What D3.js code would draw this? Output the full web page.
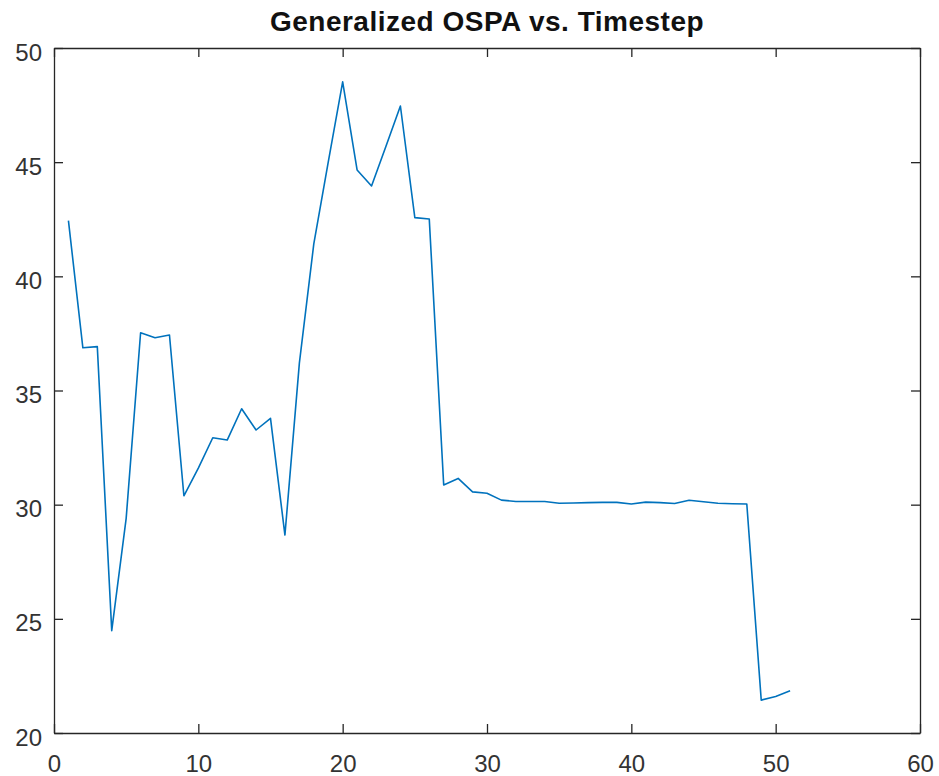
<!DOCTYPE html>
<html>
<head>
<meta charset="utf-8">
<script src="https://cdn.jsdelivr.net/npm/d3@7"></script>
<style>
  html, body { margin: 0; padding: 0; background: #fff; }
  svg { display: block; }
</style>
</head>
<body>
<svg id="chart" width="939" height="776"></svg>
<script>
const title = "Generalized OSPA vs. Timestep";
const timesteps = d3.range(1, 52);
const ospa = [42.44, 36.87, 36.92, 24.48, 29.4, 37.53, 37.31, 37.43, 30.39, 31.6,
              32.93, 32.83, 34.2, 33.27, 33.78, 28.67, 36.2, 41.42, 45.0, 48.52,
              44.66, 43.96, 45.7, 47.46, 42.57, 42.51, 30.86, 31.15, 30.56, 30.5,
              30.2, 30.14, 30.14, 30.14, 30.06, 30.07, 30.09, 30.1, 30.1, 30.03,
              30.11, 30.09, 30.05, 30.19, 30.13, 30.06, 30.04, 30.03, 21.44, 21.6, 21.85];
const xTicks = [0, 10, 20, 30, 40, 50, 60];
const yTicks = [20, 25, 30, 35, 40, 45, 50];

const L = 54, R = 920, T = 48, B = 733;
const svg = d3.select("#chart");
const x = d3.scaleLinear().domain([0, 60]).range([L, R]);
const y = d3.scaleLinear().domain([20, 50]).range([B, T]);

const axisColor = "#262626";
const labelColor = "#333333";
const fontFam = "'Liberation Sans', Arial, Helvetica, sans-serif";

// data line
svg.append("path")
  .datum(timesteps.map((t, i) => [t, ospa[i]]))
  .attr("fill", "none")
  .attr("stroke", "#0072BD")
  .attr("stroke-width", 1.6)
  .attr("stroke-linejoin", "round")
  .attr("d", d3.line().x(d => x(d[0])).y(d => y(d[1])));

// axes (ticks inside)
const tickLen = 9;
const styleAxis = g => {
  g.select(".domain").attr("stroke", axisColor).attr("stroke-width", 1.3);
  g.selectAll(".tick line").attr("stroke", axisColor).attr("stroke-width", 1.3);
  g.selectAll("text").attr("fill", labelColor).attr("font-family", fontFam).attr("font-size", 24);
};

svg.append("g").attr("transform", `translate(0,${B})`)
  .call(d3.axisBottom(x).tickValues(xTicks).tickSizeInner(-tickLen).tickSizeOuter(0).tickPadding(22).tickFormat(d3.format("d")))
  .call(styleAxis);

svg.append("g").attr("transform", `translate(0,${T})`)
  .call(d3.axisTop(x).tickValues(xTicks).tickSizeInner(-tickLen).tickSizeOuter(0).tickFormat(""))
  .call(styleAxis);

svg.append("g").attr("transform", `translate(${L},0)`)
  .call(d3.axisLeft(y).tickValues(yTicks).tickSizeInner(-tickLen).tickSizeOuter(0).tickPadding(12).tickFormat(d3.format("d")))
  .call(styleAxis)
  .call(g => g.selectAll("text").attr("dy", "0.5em"));

svg.append("g").attr("transform", `translate(${R},0)`)
  .call(d3.axisRight(y).tickValues(yTicks).tickSizeInner(-tickLen).tickSizeOuter(0).tickFormat(""))
  .call(styleAxis);

// title
svg.append("text")
  .attr("x", (L + R) / 2)
  .attr("y", 31)
  .attr("text-anchor", "middle")
  .attr("font-family", fontFam)
  .attr("font-weight", "bold")
  .attr("font-size", 28)
  .attr("letter-spacing", 0.5)
  .attr("fill", "#111")
  .text(title);
</script>
</body>
</html>
